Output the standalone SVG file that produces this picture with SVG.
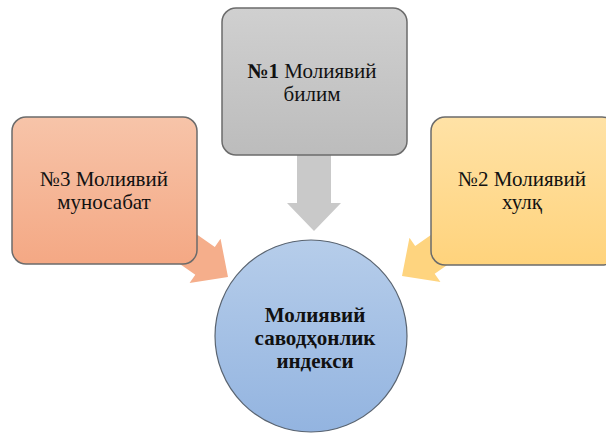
<svg xmlns="http://www.w3.org/2000/svg" width="606" height="434" viewBox="0 0 606 434">
<defs>
<linearGradient id="gGray" x1="0" y1="0" x2="0" y2="1"><stop offset="0" stop-color="#d0d0d0"/><stop offset="1" stop-color="#bcbcbc"/></linearGradient>
<linearGradient id="gOrange" x1="0" y1="0" x2="0" y2="1"><stop offset="0" stop-color="#f7c4a9"/><stop offset="1" stop-color="#f4a884"/></linearGradient>
<linearGradient id="gYellow" x1="0" y1="0" x2="0" y2="1"><stop offset="0" stop-color="#ffe2a6"/><stop offset="1" stop-color="#ffd37c"/></linearGradient>
<linearGradient id="gBlue" x1="0" y1="0" x2="0" y2="1"><stop offset="0" stop-color="#b6cdea"/><stop offset="1" stop-color="#93b4e0"/></linearGradient>
<polygon id="arrowShape" points="0,0 -28,-27 -28,-17 -120,-17 -120,17 -28,17 -28,27"/>
</defs>
<style>
.box{stroke:#6b6b6b;stroke-width:1.5}
.t{font-family:"Liberation Serif","Times New Roman",serif;font-size:21px;fill:#111;text-anchor:middle}
.b{font-weight:bold}
</style>
<g id="connectors">
<use href="#arrowShape" fill="#c9c9c9" transform="translate(314,231) rotate(90)"/>
<use href="#arrowShape" fill="#f5ae8b" transform="translate(228,277) rotate(35)"/>
<use href="#arrowShape" fill="#fed47f" transform="translate(402,276) rotate(145)"/>
</g>
<g id="node1">
<rect class="box" x="222" y="8" width="185" height="147" rx="14" fill="url(#gGray)"/>
<text class="t" x="312" y="78"><tspan class="b">№1</tspan> Молиявий</text>
<text class="t" x="312" y="101">билим</text>
</g>
<g id="node3">
<rect class="box" x="12" y="117" width="185" height="147" rx="14" fill="url(#gOrange)"/>
<text class="t" x="104" y="186">№3 Молиявий</text>
<text class="t" x="104" y="209">муносабат</text>
</g>
<g id="node2">
<rect class="box" x="431" y="117" width="185" height="148" rx="14" fill="url(#gYellow)"/>
<text class="t" x="522" y="186">№2 Молиявий</text>
<text class="t" x="522" y="209">хулқ</text>
</g>
<g id="center">
<circle cx="311" cy="336" r="96" fill="url(#gBlue)" stroke="#5a6470" stroke-width="1.2"/>
<text class="t b" x="315" y="322">Молиявий</text>
<text class="t b" x="315" y="345">саводҳонлик</text>
<text class="t b" x="315" y="368">индекси</text>
</g>
</svg>
